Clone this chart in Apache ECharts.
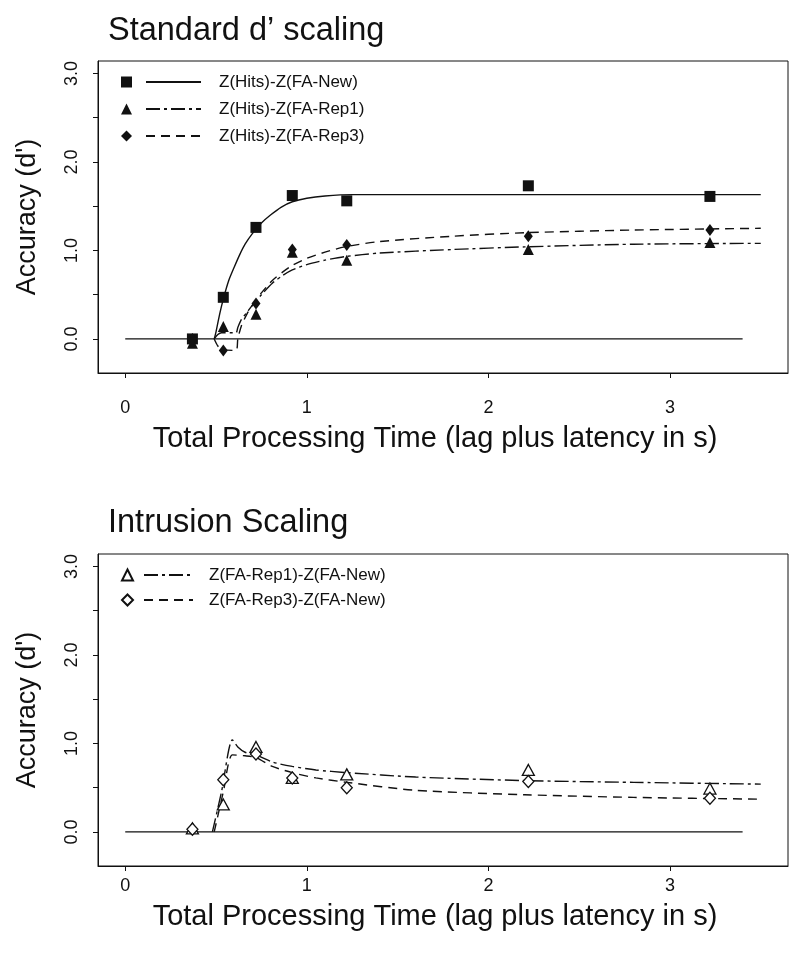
<!DOCTYPE html>
<html><head><meta charset="utf-8">
<script src="https://cdn.jsdelivr.net/npm/echarts@6/dist/echarts.min.js"></script>
<style>html,body{margin:0;padding:0;background:#fff}#c{width:800px;height:964px}</style>
</head><body><div id="c"></div>
<script>
// ---------- data ----------
const lagTimes = [0.37, 0.54, 0.72, 0.92, 1.22, 2.22, 3.22];
// Standard d' scaling (points)
const hitsNew  = [0.00, 0.47, 1.26, 1.62, 1.56, 1.73, 1.61];
const hitsRep1 = [-0.05, 0.14, 0.28, 0.98, 0.89, 1.01, 1.09];
const hitsRep3 = [0.00, -0.13, 0.40, 1.01, 1.06, 1.16, 1.23];
// Standard d' scaling (fitted curves)
const fitNewX  = [0.49, 0.50, 0.52, 0.54, 0.57, 0.60, 0.63, 0.66, 0.70, 0.75, 0.80, 0.86, 0.92, 1.00, 1.10, 1.25, 1.6, 2.2, 3.0, 3.5];
const fitNewY  = [0.00, 0.08, 0.28, 0.45, 0.66, 0.81, 0.95, 1.07, 1.19, 1.31, 1.40, 1.49, 1.55, 1.59, 1.615, 1.63, 1.63, 1.63, 1.63, 1.63];
const fitRepX  = [0.49, 0.51, 0.53, 0.61, 0.62, 0.64, 0.67, 0.70, 0.75, 0.81, 0.87, 0.92, 1.00, 1.10, 1.21, 1.4, 1.8, 2.2, 2.8, 3.5];
const fitRep1Y = [0.00, 0.05, 0.07, 0.07, 0.13, 0.22, 0.30, 0.38, 0.50, 0.63, 0.72, 0.78, 0.84, 0.89, 0.93, 0.97, 1.01, 1.04, 1.07, 1.08];
const fitRep3Y = [0.00, -0.08, -0.12, -0.13, 0.00, 0.15, 0.28, 0.38, 0.52, 0.66, 0.76, 0.83, 0.91, 0.98, 1.04, 1.10, 1.16, 1.20, 1.23, 1.25];
// Intrusion scaling (points)
const faRep1New = [0.04, 0.31, 0.96, 0.61, 0.65, 0.70, 0.49];
const faRep3New = [0.03, 0.59, 0.88, 0.61, 0.50, 0.57, 0.38];
// Intrusion scaling (fitted curves)
const fitIntr1X = [0.48, 0.53, 0.59, 0.62, 0.66, 0.72, 0.81, 0.92, 1.05, 1.22, 1.6, 2.2, 2.8, 3.5];
const fitIntr1Y = [0.00, 0.45, 1.04, 0.96, 0.90, 0.87, 0.79, 0.74, 0.70, 0.67, 0.62, 0.58, 0.56, 0.54];
const fitIntr3X = [0.49, 0.54, 0.59, 0.66, 0.72, 0.81, 0.92, 1.05, 1.22, 1.6, 2.2, 2.8, 3.5];
const fitIntr3Y = [0.00, 0.45, 0.87, 0.86, 0.84, 0.74, 0.67, 0.61, 0.56, 0.47, 0.42, 0.39, 0.37];
// zero reference line
const zeroX = [0, 3.4];
const zeroY = [0, 0];
// axis ticks
const xTickVals = [0, 1, 2, 3];
const yTickVals = [0, 0.5, 1, 1.5, 2, 2.5, 3];
const yLabelVals = [0, 1, 2, 3];
const titles = ["Standard d\u2019 scaling", "Intrusion Scaling"];
const legendTop = ["Z(Hits)-Z(FA-New)", "Z(Hits)-Z(FA-Rep1)", "Z(Hits)-Z(FA-Rep3)"];
const legendBottom = ["Z(FA-Rep1)-Z(FA-New)", "Z(FA-Rep3)-Z(FA-New)"];
const yName = "Accuracy (d')";
const xName = "Total Processing Time (lag plus latency in s)";

// ---------- helpers ----------
const zip = (xs, ys) => xs.map((x, i) => [x, ys[i]]);
const FONT = "'Liberation Sans', Arial, Helvetica, sans-serif";
const INK = '#111';
const DASH = [9, 6];
const DASHDOT = [14, 4, 3, 4];

function xAxis(gi, margin, gap) {
  return {
    type: 'value', gridIndex: gi, min: -0.15, max: 3.65,
    axisLine: { show: true, onZero: false, lineStyle: { color: INK, width: 1 } },
    axisTick: { show: true, inside: false, length: 5, customValues: xTickVals, lineStyle: { color: INK } },
    axisLabel: { customValues: xTickVals, margin: margin, fontSize: 18, color: INK, fontFamily: FONT },
    splitLine: { show: false },
    name: xName, nameLocation: 'middle', nameGap: gap,
    nameTextStyle: { fontSize: 29, color: INK, fontFamily: FONT, padding: [0, 16, 0, 0] }
  };
}
function yAxis(gi) {
  return {
    type: 'value', gridIndex: gi, min: -0.385, max: 3.14,
    axisLine: { show: true, onZero: false, lineStyle: { color: INK, width: 1 } },
    axisTick: { show: true, inside: false, length: 5, customValues: yTickVals, lineStyle: { color: INK } },
    axisLabel: { customValues: yLabelVals, rotate: 90, margin: 17, fontSize: 18, color: INK, fontFamily: FONT,
                 formatter: v => v.toFixed(1) },
    splitLine: { show: false },
    name: yName, nameLocation: 'middle', nameGap: 57,
    nameTextStyle: { fontSize: 27, color: INK, fontFamily: FONT }
  };
}
function lineSeries(name, gi, data, type, width) {
  return { name, type: 'line', xAxisIndex: gi, yAxisIndex: gi, data, symbol: 'none',
           smooth: 0.25, silent: true,
           lineStyle: { color: INK, width: width || 1.3, type }, z: 2 };
}
function pointSeries(name, gi, data, symbol, size, filled) {
  return { name, type: 'scatter', xAxisIndex: gi, yAxisIndex: gi, data, symbol, symbolSize: size,
           itemStyle: filled ? { color: INK, opacity: 1 } : { color: '#fff', borderColor: INK, borderWidth: 1.3, opacity: 1 }, z: 4 };
}
const titleStyle = { fontSize: 32.5, fontWeight: 'normal', color: INK, fontFamily: FONT };

const option = {
  backgroundColor: '#fff',
  animation: false,
  textStyle: { fontFamily: FONT },
  title: [
    { text: titles[0], left: 103, top: 10, textStyle: titleStyle },
    { text: titles[1], left: 103, top: 502, textStyle: titleStyle }
  ],
  grid: [
    { left: 98, top: 61, width: 690, height: 312, show: true, borderColor: INK, borderWidth: 1, backgroundColor: 'transparent' },
    { left: 98, top: 554, width: 690, height: 312, show: true, borderColor: INK, borderWidth: 1, backgroundColor: 'transparent' }
  ],
  xAxis: [xAxis(0, 26, 51), xAxis(1, 11, 36)],
  yAxis: [yAxis(0), yAxis(1)],
  legend: [
    { // markers, top
      data: ['pNew', 'pRep1', 'pRep3'], orient: 'vertical', left: 121, top: 73, padding: 0,
      itemWidth: 11, itemHeight: 11, itemGap: 9, formatter: () => ' ',
      textStyle: { fontSize: 16, lineHeight: 18 }, selectedMode: false
    },
    { // lines + labels, top
      data: legendTop, orient: 'vertical', left: 145, top: 73, padding: 0,
      itemWidth: 55, itemHeight: 14, itemGap: 9, selectedMode: false,
      itemStyle: { opacity: 0 },
      textStyle: { fontSize: 17, lineHeight: 18, color: INK, fontFamily: FONT, padding: [0, 0, 0, 13] }
    },
    { // markers, bottom
      data: ['pI1', 'pI3'], orient: 'vertical', left: 121, top: 566, padding: 0,
      itemWidth: 11, itemHeight: 11, itemGap: 7, formatter: () => ' ',
      textStyle: { fontSize: 16, lineHeight: 18 }, selectedMode: false
    },
    { // lines + labels, bottom
      data: legendBottom, orient: 'vertical', left: 143, top: 566, padding: 0,
      itemWidth: 49, itemHeight: 14, itemGap: 7, selectedMode: false,
      itemStyle: { opacity: 0 },
      textStyle: { fontSize: 17, lineHeight: 18, color: INK, fontFamily: FONT, padding: [0, 0, 0, 11] }
    }
  ],
  series: [
    // zero lines
    lineSeries('zero0', 0, zip(zeroX, zeroY), 'solid', 1.3),
    lineSeries('zero1', 1, zip(zeroX, zeroY), 'solid', 1.3),
    // top fitted curves
    lineSeries(legendTop[0], 0, zip(fitNewX, fitNewY), 'solid', 1.4),
    lineSeries(legendTop[1], 0, zip(fitRepX, fitRep1Y), DASHDOT, 1.4),
    lineSeries(legendTop[2], 0, zip(fitRepX, fitRep3Y), DASH, 1.4),
    // top points
    pointSeries('pNew', 0, zip(lagTimes, hitsNew), 'rect', 11, true),
    pointSeries('pRep1', 0, zip(lagTimes, hitsRep1), 'triangle', 11, true),
    pointSeries('pRep3', 0, zip(lagTimes, hitsRep3), 'diamond', [9, 12], true),
    // bottom fitted curves
    lineSeries(legendBottom[0], 1, zip(fitIntr1X, fitIntr1Y), DASHDOT, 1.4),
    lineSeries(legendBottom[1], 1, zip(fitIntr3X, fitIntr3Y), DASH, 1.4),
    // bottom points
    pointSeries('pI1', 1, zip(lagTimes, faRep1New), 'triangle', [12, 11], false),
    pointSeries('pI3', 1, zip(lagTimes, faRep3New), 'diamond', [11, 12], false)
  ]
};
const chart = echarts.init(document.getElementById('c'), null, { renderer: 'canvas' });
chart.setOption(option);
</script></body></html>
